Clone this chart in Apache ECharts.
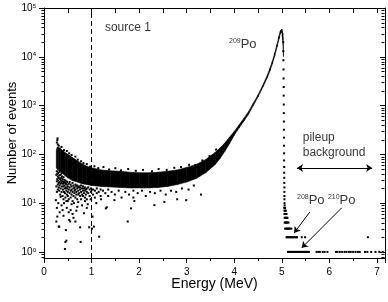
<!DOCTYPE html>
<html><head><meta charset="utf-8">
<script src="https://cdn.jsdelivr.net/npm/echarts@6/dist/echarts.min.js"></script>
<style>html,body{margin:0;padding:0;background:#fff}#c{width:388px;height:302px}</style>
</head><body><div id="c"></div>
<script>
// ---- data ----
const bandEnergy = [0.26,0.28,0.30,0.35,0.40,0.45,0.50,0.60,0.70,0.80,0.90,1.00,1.20,1.40,1.60,1.80,2.00,2.20,2.40,2.60,2.80,3.00,3.20,3.40,3.60,3.70,3.80,3.90,4.00,4.10,4.20,4.30,4.40,4.50,4.60,4.70,4.75,4.80,4.85,4.90,4.94,4.97,5.00,5.02,5.035];
const bandUpper  = [120,140,138,128,118,108,100,86,74,64,57,53,48,46,45,43,42,42,43,45,48,54,62,78,110,135,170,225,295,400,545,750,1120,1650,2600,4300,5800,8000,11800,18000,26500,34000,37000,31000,17000];
const bandLower  = [52,50,47,45,40,36,33,29,27,25,24,23,22,21.5,21,20.5,20.5,20.5,21,22,24,27,32,42,62,82,115,165,245,345,475,665,1000,1500,2380,3800,5100,7100,10300,15800,23000,30000,32000,22000,10000];

const speckle = [[0.26,38],[0.26,22],[0.27,45],[0.27,28],[0.27,17],[0.28,31],[0.28,40],[0.29,24],[0.29,35],[0.29,19],[0.3,29],[0.3,42],[0.31,21],[0.31,33],[0.31,26],[0.32,37],[0.32,18],[0.33,27],[0.33,44],[0.33,23],[0.34,31],[0.34,15],[0.35,25],[0.35,38],[0.35,20],[0.36,33],[0.36,29],[0.37,17],[0.37,26],[0.37,41],[0.38,22],[0.38,35],[0.39,28],[0.39,14],[0.39,31],[0.4,19],[0.4,25],[0.41,34],[0.41,22],[0.41,12],[0.42,27],[0.42,17],[0.43,23],[0.43,30],[0.44,16],[0.44,26],[0.44,20],[0.45,29],[0.45,13],[0.46,21],[0.46,25],[0.47,18],[0.47,28],[0.47,11],[0.48,24],[0.48,15],[0.49,20],[0.49,27],[0.5,14],[0.5,22],[0.5,17],[0.52,25],[0.52,19],[0.52,12],[0.54,21],[0.54,16],[0.54,27],[0.56,18],[0.56,24],[0.56,13],[0.58,22],[0.58,15],[0.58,19],[0.6,26],[0.6,17],[0.6,11],[0.62,20],[0.62,14],[0.62,23],[0.64,16],[0.64,21],[0.64,18],[0.66,24],[0.66,13],[0.66,19],[0.68,17],[0.68,22],[0.68,15],[0.7,20],[0.7,12],[0.7,23],[0.72,18],[0.72,15],[0.72,21],[0.74,22],[0.74,16],[0.76,14],[0.76,19],[0.76,21],[0.78,17],[0.78,23],[0.78,12],[0.8,20],[0.8,15],[0.82,18],[0.82,22],[0.82,14],[0.84,16],[0.84,20],[0.86,21],[0.86,13],[0.86,18],[0.88,15],[0.88,19],[0.9,20],[0.9,17],[0.9,12],[0.93,16],[0.93,21],[0.96,19],[0.96,14],[0.99,17],[0.99,20],[1.03,15],[1.03,19],[1.07,18],[1.07,13],[1.11,20],[1.11,16],[1.15,17],[1.19,14],[1.19,19],[1.24,18],[1.29,16],[1.35,19],[1.35,14],[1.42,17],[1.49,15],[1.57,18],[1.63,13],[1.71,17],[1.79,15],[1.88,18],[1.88,13],[1.97,16],[2.06,18],[2.14,14],[2.23,17],[2.33,16],[2.45,18],[2.56,15],[2.67,18],[2.78,17],[2.9,20],[3.04,19],[3.15,23]];
const outliers = [[0.25,11.5],[0.26,4.2],[0.28,5.3],[0.31,3.3],[0.32,3.3],[0.35,13.5],[0.39,7.2],[0.42,10],[0.44,1.15],[0.45,1.6],[0.46,2.8],[0.47,1.7],[0.53,4.5],[0.55,4.2],[0.56,7.2],[0.6,6],[0.63,10],[0.66,4.2],[0.7,8.4],[0.76,3.2],[0.77,1.6],[0.84,6.2],[0.9,8],[0.95,3.2],[1.01,3.0],[1.02,5.3],[1.05,3.3],[1.16,2.05],[1.3,7.8],[1.32,8.2],[1.48,11.5],[1.76,4.2],[1.83,7.8],[1.9,11],[2.32,9.1],[2.53,10.6],[2.8,12],[2.99,11.5],[3.3,15],[0.27,8],[0.3,10],[0.33,6.5],[0.37,9],[0.41,5.5],[0.48,8],[0.5,11],[0.52,6.5],[0.58,9.5],[0.62,5],[0.68,7],[0.72,10.5],[0.8,9],[0.86,11],[0.92,9.5],[0.98,12],[1.1,10],[1.2,12]];
const upperFuzz = [[0.27,175],[0.28,195],[0.285,212],[0.29,160],[0.31,150],[0.33,132],[0.37,142],[0.42,122],[0.48,117],[0.53,105],[0.58,97],[0.66,90],[0.71,78],[0.78,72],[0.83,66],[0.9,63],[0.97,56],[1.06,57],[1.14,52],[1.25,55],[1.37,49],[1.5,52],[1.62,47],[1.77,50],[1.93,46],[2.08,48],[2.27,45],[2.41,50],[2.58,48],[2.74,53],[2.88,55],[3.05,61],[3.18,60],[3.33,75],[3.48,92],[3.62,125]];
const edgeEnergy = [5.03,5.032,5.034,5.036,5.038,5.04,5.04,5.042,5.042,5.044,5.044,5.046,5.046,5.048,5.048,5.05,5.05,5.052,5.052,5.054,5.054,5.056,5.056,5.058,5.06];
const edgeCounts = [20000,13000,8500,5500,3600,2400,1600,1050,700,470,320,220,150,105,75,55,42,33,26,21,17,14,12,10,9];
const stepCounts = [8,7,6,5,4,3,2,1];
const stepEnergies = [
  [5.05,5.07],
  [5.055,5.07,5.085],
  [5.055,5.07,5.085,5.1],
  [5.06,5.075,5.09,5.105,5.12],
  [5.06,5.075,5.09,5.105,5.12,5.14],
  [5.07,5.09,5.11,5.13,5.15,5.17,5.2],
  [5.1,5.12,5.14,5.16,5.18,5.2,5.22,5.24,5.26,5.28,5.3,5.32,5.42,5.49,6.81],
  [5.13,5.15,5.17,5.19,5.21,5.23,5.25,5.27,5.29,5.31,5.33,5.35,5.37,5.39,5.41,5.43,5.45,5.47,5.49,5.51,5.53,5.55,5.57,5.73,5.77,5.8,5.86,5.9,5.96,6.14,6.17,6.22,6.27,6.32,6.36,6.41,6.45,6.5,6.55,6.6,6.64,6.75,6.8,6.88,6.97,7.05,7.12]
];
const yMinorValues = [0.8,0.9,2,3,4,5,6,7,8,9,20,30,40,50,60,70,80,90,200,300,400,500,600,700,800,900,2000,3000,4000,5000,6000,7000,8000,9000,20000,30000,40000,50000,60000,70000,80000,90000];
const annotations = [
  [1.28, 39000, 'source 1'],
  [3.89, 18300, '{s|209}{p|Po}'],
  [5.44, 217, 'pileup'],
  [5.44, 107, 'background'],
  [5.32, 11.6, '{s|208}{p|Po}'],
  [5.97, 11.6, '{s|210}{p|Po}']
];
const arrows = [
  [[5.59, 6.6], [5.26, 2.45]],
  [[6.26, 8.0], [5.42, 1.21]]
];
const pileupArrow = [[5.32, 52.7], [6.9, 52.7]];
const sourceLineE = 1;

// ---- chart ----
const X_MIN = 0, X_MAX = 7.17, Y_MIN = 0.75, Y_MAX = 1e5;
const FONT = 'Liberation Sans, Arial, sans-serif';
const chart = echarts.init(document.getElementById('c'), null, {renderer: 'canvas'});

const stepData = [];
stepCounts.forEach((n, k) => stepEnergies[k].forEach(e => stepData.push([e, n])));
const edgeData = edgeEnergy.map((e, i) => [e, edgeCounts[i]]);

function supLabel(v) {
  const e = Math.round(Math.log10(v));
  if (Math.abs(v - Math.pow(10, e)) / v > 0.01) return '';
  return '{b|10}{s|' + e + '}';
}
const dotStyle = {color: '#000', opacity: 1};

chart.setOption({
  animation: false,
  textStyle: {fontFamily: FONT},
  grid: {left: 44, right: 3, top: 8, bottom: 44, show: false, containLabel: false, outerBoundsMode: 'none'},
  xAxis: [{
    type: 'value', min: X_MIN, max: X_MAX, interval: 1, position: 'bottom',
    axisLine: {show: true, onZero: false, lineStyle: {color: '#000', width: 1}},
    axisTick: {show: true, inside: false, length: 5, lineStyle: {color: '#000'}},
    minorTick: {show: true, splitNumber: 2, length: 3, lineStyle: {color: '#000'}},
    axisLabel: {color: '#000', fontSize: 10, margin: 9, showMaxLabel: false, fontFamily: FONT},
    splitLine: {show: false},
    name: 'Energy (MeV)', nameLocation: 'middle', nameGap: 19, nameMoveOverlap: false,
    nameTextStyle: {color: '#000', fontSize: 14, fontFamily: FONT}
  }, {
    type: 'value', min: X_MIN, max: X_MAX, interval: 0.5, position: 'top',
    axisLine: {show: true, onZero: false, lineStyle: {color: '#000', width: 1}},
    axisTick: {show: true, inside: true, length: 5, lineStyle: {color: '#000'}},
    axisLabel: {show: false}, splitLine: {show: false}
  }],
  yAxis: [{
    type: 'log', logBase: 10, min: Y_MIN, max: Y_MAX, position: 'left',
    axisLine: {show: true, onZero: false, lineStyle: {color: '#000', width: 1}},
    axisTick: {show: true, inside: false, length: 5, lineStyle: {color: '#000'}},
    axisLabel: {
      color: '#000', margin: 8, showMinLabel: false, formatter: supLabel,
      rich: {b: {fontSize: 10, fontFamily: FONT, color: '#000'},
             s: {fontSize: 6, fontFamily: FONT, color: '#000', verticalAlign: 'top'}}
    },
    splitLine: {show: false},
    name: 'Number of events', nameLocation: 'middle', nameGap: 25, nameMoveOverlap: false,
    nameTextStyle: {color: '#000', fontSize: 13, fontFamily: FONT}
  }, {
    type: 'log', logBase: 10, min: Y_MIN, max: Y_MAX, position: 'right',
    axisLine: {show: true, onZero: false, lineStyle: {color: '#000', width: 1}},
    axisTick: {show: true, inside: true, length: 5, lineStyle: {color: '#000'}},
    axisLabel: {show: false}, splitLine: {show: false}
  }],
  series: [
    {
      type: 'custom', name: 'band', clip: true, silent: true,
      data: bandEnergy.map((e, i) => [e, bandUpper[i], bandLower[i]]),
      encode: {x: 0, y: 1},
      renderItem: function (params, api) {
        const i = params.dataIndex;
        if (i >= bandEnergy.length - 1) return null;
        const p1 = api.coord([bandEnergy[i], bandUpper[i]]);
        const p2 = api.coord([bandEnergy[i + 1], bandUpper[i + 1]]);
        const p3 = api.coord([bandEnergy[i + 1], bandLower[i + 1]]);
        const p4 = api.coord([bandEnergy[i], bandLower[i]]);
        return {type: 'polygon', shape: {points: [p1, p2, p3, p4]},
                style: {fill: '#000', stroke: '#000', lineWidth: 0.6}};
      },
      markLine: {
        silent: true, symbol: 'none', label: {show: false},
        lineStyle: {color: '#000', width: 1, type: [5, 3]},
        emphasis: {disabled: true},
        data: [{xAxis: sourceLineE}]
      }
    },
    {type: 'scatter', symbol: 'rect', symbolSize: 2, itemStyle: dotStyle, silent: true, data: speckle},
    {type: 'scatter', symbol: 'rect', symbolSize: 2, itemStyle: dotStyle, silent: true, data: outliers},
    {type: 'scatter', symbol: 'rect', symbolSize: 2, itemStyle: dotStyle, silent: true, data: upperFuzz},
    {type: 'scatter', symbol: 'rect', symbolSize: 2, itemStyle: dotStyle, silent: true, data: edgeData},
    {type: 'scatter', symbol: 'rect', symbolSize: 2, itemStyle: dotStyle, silent: true, data: stepData},
    {
      type: 'custom', name: 'yMinorTicks', clip: false, silent: true,
      data: yMinorValues.map(v => [X_MIN, v]),
      encode: {x: 0, y: 1},
      renderItem: function (params, api) {
        const v = yMinorValues[params.dataIndex];
        const pL = api.coord([X_MIN, v]);
        const pR = api.coord([X_MAX, v]);
        const yl = Math.round(pL[1]) + 0.5;
        const xl = Math.round(pL[0]) + 0.5;
        const xr = Math.round(pR[0]) - 0.5;
        return {type: 'group', children: [
          {type: 'line', shape: {x1: xl - 3, y1: yl, x2: xl, y2: yl}, style: {stroke: '#000', lineWidth: 1}},
          {type: 'line', shape: {x1: xr - 3, y1: yl, x2: xr, y2: yl}, style: {stroke: '#000', lineWidth: 1}}
        ]};
      }
    },
    {
      type: 'scatter', name: 'annotations', symbolSize: 0, silent: true,
      data: annotations,
      label: {
        show: true, position: 'right', distance: 0, color: '#000',
        fontSize: 12, fontFamily: FONT,
        formatter: p => p.data[2],
        rich: {s: {fontSize: 7, fontFamily: FONT, color: '#000', verticalAlign: 'top'},
               p: {fontSize: 13, fontFamily: FONT, color: '#000'}}
      },
      markLine: {
        silent: true, label: {show: false}, symbolSize: 6,
        lineStyle: {color: '#000', width: 1, type: 'solid'},
        emphasis: {disabled: true},
        data: arrows.map(a => [{coord: a[0], symbol: 'none'}, {coord: a[1], symbol: 'arrow'}])
          .concat([[{coord: pileupArrow[0], symbol: 'arrow'}, {coord: pileupArrow[1], symbol: 'arrow'}]])
      }
    }
  ]
});
</script>
</body></html>
